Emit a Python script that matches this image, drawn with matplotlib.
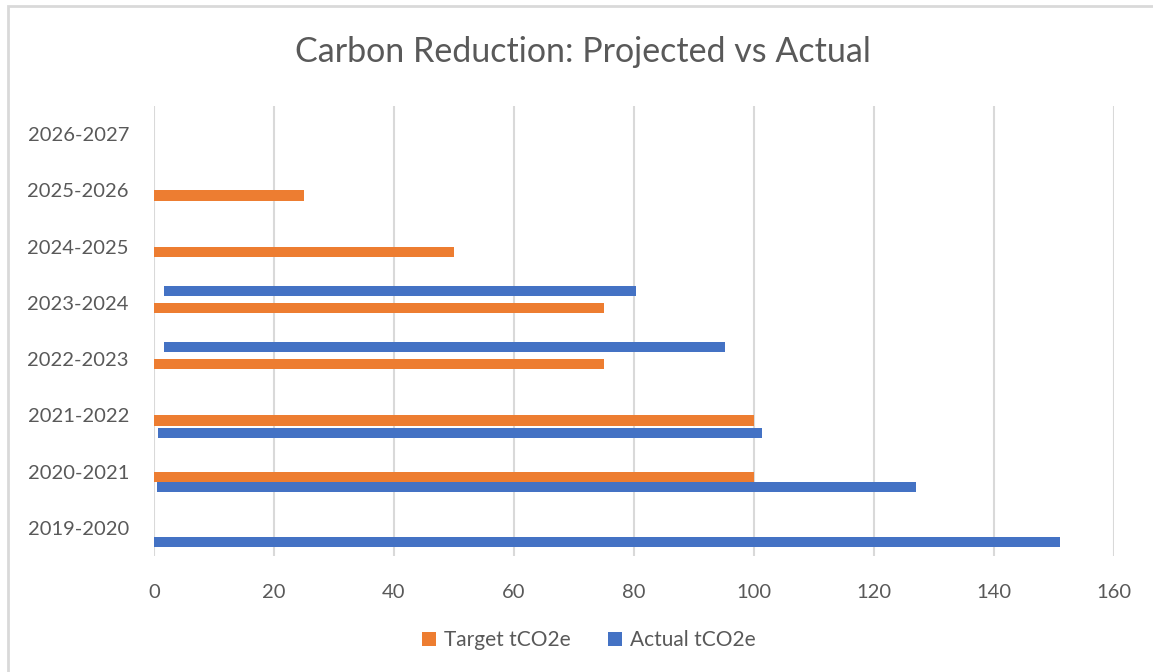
import numpy as np
import matplotlib.pyplot as plt
from matplotlib.patches import Rectangle

# categories, bottom to top
periods = ['2019-2020', '2020-2021', '2021-2022', '2022-2023',
           '2023-2024', '2024-2025', '2025-2026', '2026-2027']

# tCO2e, NaN where there is no bar
target = [np.nan, 100, 100, 75, 75, 50, 25, np.nan]
actual_start = [0, 0.5, 0.7, 1.7, 1.7, np.nan, np.nan, np.nan]
actual_end = [151, 127, 101.3, 95.2, 80.3, np.nan, np.nan, np.nan]

# layout: vertical placement of the bars inside each category band
target_shift = -0.09
actual_shift = [-0.25, -0.27, -0.32, 0.21, 0.21, 0, 0, 0]
bar_h = 0.18

orange = '#ED7D31'
blue = '#4472C4'
text_col = '#595959'
grid_col = '#D9D9D9'

plt.rcParams['font.family'] = ['Lato', 'DejaVu Sans']

fig = plt.figure(figsize=(11.53, 6.72), dpi=100)
ax = fig.add_axes([154 / 1153, 1 - 556 / 672, (1114 - 154) / 1153, (556 - 106) / 672])

y = np.arange(len(periods))
start = np.array(actual_start)
width = np.array(actual_end) - start

ax.barh(y + target_shift, target, height=bar_h, color=orange, label='Target tCO2e', zorder=3)
ax.barh(y + np.array(actual_shift), width, left=start, height=bar_h, color=blue,
        label='Actual tCO2e', zorder=3)

ax.set_xlim(0, 160)
ax.set_xticks(range(0, 161, 20))
ax.set_ylim(-0.5, len(periods) - 0.5)
ax.set_yticks(y)
ax.set_yticklabels(periods)

ax.grid(axis='x', color=grid_col, linewidth=1.5, zorder=0)
for s in ax.spines.values():
    s.set_visible(False)
ax.tick_params(length=0, labelsize=14.5, colors=text_col)
ax.tick_params(axis='y', pad=18)
ax.tick_params(axis='x', pad=20)

fig.text(583 / 1153, 1 - 52 / 672, 'Carbon Reduction: Projected vs Actual',
         ha='center', va='center', fontsize=24.5, color=text_col)

leg = fig.legend(loc='center', bbox_to_anchor=(589 / 1153, 1 - 640 / 672), ncol=2,
                 frameon=False, fontsize=15, handlelength=0.65, handleheight=0.65,
                 handletextpad=0.4, columnspacing=1.8)
for t in leg.get_texts():
    t.set_color(text_col)

# chart area border
fig.patches.append(Rectangle((8 / 1153, -0.01), 1.0, 1 - 6 / 672 + 0.01,
                             transform=fig.transFigure, fill=False,
                             edgecolor=grid_col, linewidth=2))

fig.savefig('out.png', dpi=100)
